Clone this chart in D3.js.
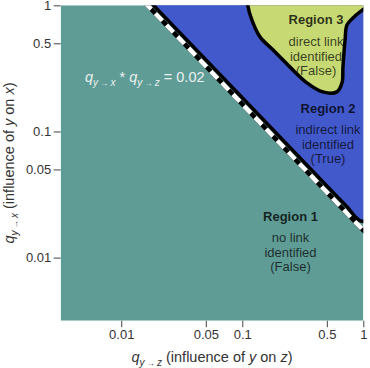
<!DOCTYPE html>
<html>
<head>
<meta charset="utf-8">
<script src="https://cdn.jsdelivr.net/npm/d3@7"></script>
<style>
  html, body { margin: 0; padding: 0; background: #fff; }
  svg { display: block; }
  text { font-family: "Liberation Sans", Arial, sans-serif; }
</style>
</head>
<body>
<svg id="chart" width="370" height="368"></svg>
<script>
// ---------- data ----------
const domainMin = Math.pow(10, -2.5);
const xTicks = [0.01, 0.05, 0.1, 0.5, 1];
const yTicks = [0.01, 0.05, 0.1, 0.5, 1];
const xTickLabels = ["0.01", "0.05", "0.1", "0.5", "1"];
const yTickLabels = ["0.01", "0.05", "0.1", "0.5", "1"];

// dashed threshold line: q_yx * q_yz = const (as drawn)
const thresholdProduct = 0.0165;
const thresholdLabel = "0.02";

// Region 2 (blue) lower boundary, [q_yz, q_yx]
const region2Boundary = [
  [0.0123, 1.5], [0.1, 0.185], [0.6, 0.0308], [0.75, 0.0247],
  [0.85, 0.0212], [0.93, 0.0197], [1.0, 0.0193], [1.6, 0.0193]
];
// Region 3 (yellow) boundary, [q_yz, q_yx]
const region3Boundary = [
  [0.108, 1.6], [0.111, 1.0], [0.120, 0.766], [0.140, 0.562], [0.179, 0.444],
  [0.247, 0.325], [0.342, 0.243], [0.463, 0.206], [0.605, 0.206],
  [0.667, 0.243], [0.679, 0.325], [0.707, 0.532], [0.733, 0.700],
  [0.822, 0.794], [0.940, 0.887], [1.05, 0.95], [1.6, 1.0]
];

const regionLabels = [
  { title: "Region 1", lines: ["no link", "identified", "(False)"] },
  { title: "Region 2", lines: ["indirect link", "identified", "(True)"] },
  { title: "Region 3", lines: ["direct link", "identified", "(False)"] }
];

// ---------- layout ----------
const L = 60.7, R = 363.3, T = 5.3, B = 320.7;
const svg = d3.select("#chart");
const x = d3.scaleLog().domain([domainMin, 1]).range([L, R]);
const y = d3.scaleLog().domain([domainMin, 1]).range([B, T]);

const colors = { r1: "#5f9c95", r2: "#4259cc", r3: "#c6d973" };

svg.append("defs").append("clipPath").attr("id", "plotclip")
  .append("rect").attr("x", L).attr("y", T).attr("width", R - L).attr("height", B - T);

const plot = svg.append("g").attr("clip-path", "url(#plotclip)");

// Region 1 background
plot.append("rect").attr("x", x(domainMin)).attr("y", y(1))
  .attr("width", x(1) - x(domainMin)).attr("height", y(domainMin) - y(1))
  .attr("fill", colors.r1);

const lineGen = d3.line().x(d => x(d[0])).y(d => y(d[1]));

// Region 2 fill
const r2Poly = region2Boundary.concat([[1.6, 1.6]]);
plot.append("path").attr("d", lineGen(r2Poly) + "Z").attr("fill", colors.r2);

// threshold dashed line
const thrPts = [[thresholdProduct / 2, 2], [2, thresholdProduct / 2]];
plot.append("path").attr("d", lineGen(thrPts))
  .attr("stroke", "#000").attr("stroke-width", 4.5).attr("fill", "none");
plot.append("path").attr("d", lineGen(thrPts))
  .attr("stroke", "#fff").attr("stroke-width", 4.5).attr("fill", "none")
  .attr("stroke-dasharray", "10,6");

// Region 2 border
plot.append("path").attr("d", lineGen(region2Boundary))
  .attr("fill", "none").attr("stroke", "#000").attr("stroke-width", 3.5)
  .attr("stroke-linejoin", "round");

// Region 3
const curveGen = d3.line().x(d => x(d[0])).y(d => y(d[1])).curve(d3.curveCatmullRom.alpha(0.5));
const r3Path = curveGen(region3Boundary);
plot.append("path").attr("d", r3Path + "L" + x(1.6) + "," + y(1.6) + "Z").attr("fill", colors.r3);
plot.append("path").attr("d", r3Path)
  .attr("fill", "none").attr("stroke", "#000").attr("stroke-width", 3.5)
  .attr("stroke-linejoin", "round");

// ---------- axes ----------
const xAxis = svg.append("g").attr("transform", `translate(0,${B})`)
  .call(d3.axisBottom(x).tickValues(xTicks).tickFormat((d, i) => xTickLabels[i]).tickSize(6.5).tickPadding(3));
const yAxis = svg.append("g").attr("transform", `translate(${L},0)`)
  .call(d3.axisLeft(y).tickValues(yTicks).tickFormat((d, i) => yTickLabels[i]).tickSize(7).tickPadding(2.5));
[xAxis, yAxis].forEach(g => {
  g.select(".domain").remove();
  g.selectAll(".tick line").attr("stroke", "#555").attr("stroke-width", 1.1);
  g.selectAll(".tick text").attr("fill", "#333").attr("font-size", 13)
    .attr("font-family", "'Liberation Sans', Arial, sans-serif");
});

// axis titles
function qTitle(sel, sub, rest) {
  sel.append("tspan").attr("font-style", "italic").text("q");
  sel.append("tspan").attr("font-style", "italic").attr("font-size", 10).attr("dy", 4).text("y");
  sel.append("tspan").attr("font-size", 8).text(" \u2192 ");
  sel.append("tspan").attr("font-style", "italic").attr("font-size", 10).text(sub);
  sel.append("tspan").attr("dy", -4).text(" (influence of ");
  sel.append("tspan").attr("font-style", "italic").text("y");
  sel.append("tspan").text(" on ");
  sel.append("tspan").attr("font-style", "italic").text(sub);
  sel.append("tspan").text(")");
}
const xt = svg.append("text").attr("x", (L + R) / 2).attr("y", 362)
  .attr("text-anchor", "middle").attr("font-size", 14.5).attr("fill", "#333");
qTitle(xt, "z");
const yt = svg.append("text").attr("transform", `translate(13.5,${(T + B) / 2}) rotate(-90)`)
  .attr("text-anchor", "middle").attr("font-size", 14.5).attr("fill", "#333");
qTitle(yt, "x");

// threshold annotation
const ann = svg.append("text").attr("x", 85).attr("y", 82).attr("font-size", 14.5).attr("fill", "#eaf2f0");
ann.append("tspan").attr("font-style", "italic").text("q");
ann.append("tspan").attr("font-style", "italic").attr("font-size", 10).attr("dy", 4).text("y");
ann.append("tspan").attr("font-size", 8).text(" \u2192 ");
ann.append("tspan").attr("font-style", "italic").attr("font-size", 10).text("x");
ann.append("tspan").attr("dy", -4).text(" * ");
ann.append("tspan").attr("font-style", "italic").text("q");
ann.append("tspan").attr("font-style", "italic").attr("font-size", 10).attr("dy", 4).text("y");
ann.append("tspan").attr("font-size", 8).text(" \u2192 ");
ann.append("tspan").attr("font-style", "italic").attr("font-size", 10).text("z");
ann.append("tspan").attr("dy", -4).text(" = " + thresholdLabel);

// region labels
const labelPos = [
  { cx: 290.5, ty: 221, ly: [241.5, 256.5, 271] },
  { cx: 328, ty: 113, ly: [134, 148.5, 163] },
  { cx: 316, ty: 24, ly: [46, 60.5, 75] }
];
regionLabels.forEach((r, i) => {
  const p = labelPos[i];
  svg.append("text").attr("x", p.cx).attr("y", p.ty).attr("text-anchor", "middle")
    .attr("font-size", 13).attr("font-weight", "bold").attr("fill", "#000").attr("fill-opacity", 0.78)
    .text(r.title);
  r.lines.forEach((t, j) => {
    svg.append("text").attr("x", p.cx).attr("y", p.ly[j]).attr("text-anchor", "middle")
      .attr("font-size", 13).attr("fill", "#000").attr("fill-opacity", 0.72).text(t);
  });
});
</script>
</body>
</html>
